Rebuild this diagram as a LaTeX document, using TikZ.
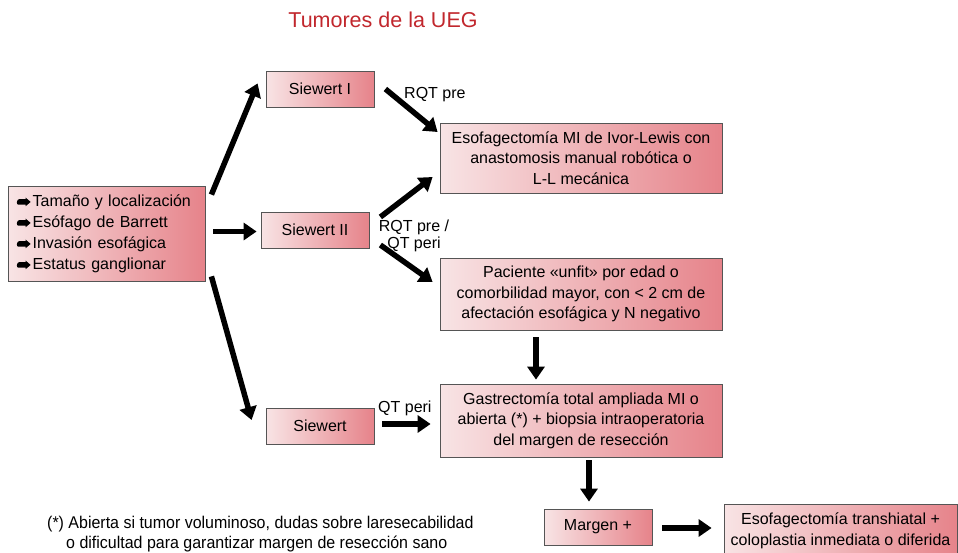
\documentclass[tikz,border=0pt]{standalone}
\usepackage{fontspec}
\setmainfont{Liberation Sans}
\usepackage{graphicx}
\usetikzlibrary{arrows.meta,shadings}
\definecolor{boxL}{HTML}{F8E4E5}
\definecolor{boxR}{HTML}{E6838A}
\definecolor{titlered}{HTML}{C1272D}
\definecolor{edge}{HTML}{555555}
\newcommand{\bulg}{\tikz[x=1pt,y=1pt,baseline=0pt]\fill (0,1.6) -- (7.5,1.6) -- (7.5,0) -- (12.5,4.3) -- (7.5,8.6) -- (7.5,7) -- (0.8,7) to[out=180,in=180] (0,1.6) -- cycle;\hspace{2pt}}
\begin{document}
\begin{tikzpicture}[x=1pt,y=-1pt,
  box/.style={draw=edge, line width=0.8pt, left color=boxL, right color=boxR, align=center, inner sep=0pt,
     font=\fontsize{16}{20.5}\selectfont},
  arr/.style={line width=5.5pt, -{Triangle[length=13pt,width=17pt]}},
  lab/.style={font=\fontsize{16}{17}\selectfont, inner sep=0pt}]
\useasboundingbox (0,0) rectangle (958,552);
\node[font=\fontsize{21.5}{24}\selectfont, text=titlered] (title) at (383,20) {Tumores de la UEG};
\node[box, minimum width=197pt, minimum height=95pt, text width=181pt, inner xsep=8pt, align=left,
  font=\fontsize{16}{21}\selectfont] (fac) at (106.5,233.5)
  {\bulg Tamaño y localización\\ \bulg Esófago de Barrett\\ \bulg Invasión esofágica\\ \bulg Estatus ganglionar};
\node[box, minimum width=108pt, minimum height=36pt] (s1) at (320,89) {Siewert I};
\node[box, minimum width=108pt, minimum height=36pt] (s2) at (315,230) {Siewert II};
\node[box, minimum width=108pt, minimum height=36pt] (s3) at (320,426) {Siewert};
\node[box, minimum width=282pt, minimum height=70pt] (esof) at (581,158)
  {Esofagectomía MI de Ivor-Lewis con\\ anastomosis manual robótica o\\ L-L mecánica};
\node[box, minimum width=282pt, minimum height=72pt] (pac) at (581,294)
  {Paciente «unfit» por edad o\\ comorbilidad mayor, con < 2 cm de\\ afectación esofágica y N negativo};
\node[box, minimum width=282pt, minimum height=73pt] (gas) at (581,420.5)
  {Gastrectomía total ampliada MI o\\ abierta (*) + biopsia intraoperatoria\\ del margen de resección};
\node[box, minimum width=108pt, minimum height=36pt] (mar) at (598,527) {Margen +};
\node[box, minimum width=233pt, minimum height=54pt, font=\fontsize{16}{21}\selectfont] (tra) at (840.5,531)
  {Esofagectomía transhiatal +\\ coloplastia inmediata o diferida};
\node[lab, anchor=west] (l1) at (404,95) {RQT pre};
\node[lab, align=center] (l2) at (414,236) {RQT pre /\\ QT peri};
\node[lab, anchor=west] (l3) at (378,408) {QT peri};
\node[font=\fontsize{17}{20}\selectfont, inner sep=0pt, anchor=north west, align=left] (note) at (47,516)
  {\scalebox{0.94}[1]{(*) Abierta si tumor voluminoso, dudas sobre laresecabilidad}\\
   \hspace{19pt}\scalebox{0.94}[1]{o dificultad para garantizar margen de resección sano}};
\draw[arr] ([shift={(6,9)}]fac.north east) -- ([shift={(-8,-24)}]s1.south west);
\draw[arr] ([shift={(8,-2)}]fac.east) -- ([shift={(-4,1.5)}]s2.west);
\draw[arr] ([shift={(6,-5)}]fac.south east) -- ([shift={(-14,-6)}]s3.west);
\draw[arr] ([shift={(11,0)}]s1.east) -- ([shift={(-2,-26)}]esof.west);
\draw[arr] ([shift={(11,-13)}]s2.east) -- ([shift={(-7,19)}]esof.west);
\draw[arr] ([shift={(11,15)}]s2.east) -- ([shift={(-7,-12)}]pac.west);
\draw[arr] ([shift={(-45,7)}]pac.south) -- ([shift={(-45,-4)}]gas.north);
\draw[arr] ([shift={(8,3)}]gas.south) -- ([shift={(-9,-7)}]mar.north);
\draw[arr] ([shift={(10,1)}]mar.east) -- ([shift={(-12,-3)}]tra.west);
\draw[arr] ([shift={(8,-2)}]s3.east) -- ([shift={(-9,3.5)}]gas.west);
\end{tikzpicture}
\end{document}
